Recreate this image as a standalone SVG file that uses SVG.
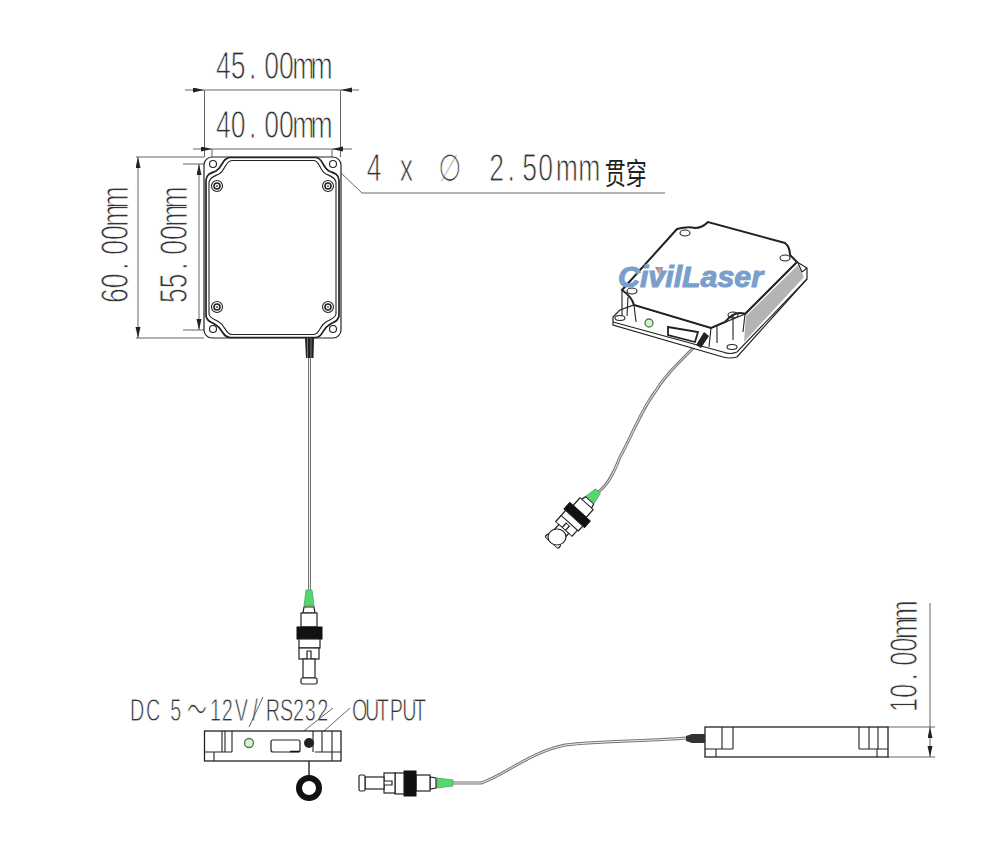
<svg xmlns="http://www.w3.org/2000/svg" xmlns:xlink="http://www.w3.org/1999/xlink" width="1001" height="859" viewBox="0 0 1001 859">
<style>
.t{font-family:"Liberation Sans",sans-serif;font-size:38px;fill:#333;stroke:#fff;stroke-width:.9px}
.s{font-size:32px;stroke-width:.8px}
.d{fill:none;stroke:#555;stroke-width:.9}
.b{fill:none;stroke:#222;stroke-width:1.1}
.h{fill:none;stroke:#222;stroke-width:1.7}
.fo{fill:none;stroke:#777;stroke-width:3}
.fi{fill:none;stroke:#eee;stroke-width:1}
.w{fill:#fff;stroke:#222;stroke-width:1.2}
.k{fill:#111;stroke:#111}
.g{fill:#55d86a;stroke:#4a7;stroke-width:.8}
.led{fill:#d8f2cf;stroke:#4f7a4f;stroke-width:1.3}
</style>
<defs>
<marker id="ah" markerUnits="userSpaceOnUse" markerWidth="12" markerHeight="6" refX="11" refY="2.5" orient="auto"><path d="M0,0L11,2.5L0,5z" fill="#222"/></marker>
<g id="fc">
<path class="g" d="M-3,0L3,0L5,16L-5,16z"/>
<path class="w" d="M-5,17L5,17L6,23L-6,23z"/>
<rect class="w" x="-8" y="23" width="16" height="14"/>
<rect class="k" x="-12" y="37" width="25" height="12"/>
<rect class="w" x="-10" y="49" width="21" height="9"/>
<rect class="w" x="-10" y="58" width="20" height="11"/>
<path class="w" d="M-2,69V61H2V69"/>
<rect class="w" x="-6" y="69" width="12" height="19"/>
<rect class="w" x="-8" y="88" width="16" height="6" rx="1.5"/>
</g>
<g id="scr"><circle class="b" r="5.5"/><circle r="3" fill="none" stroke="#222" stroke-width="1.6"/><circle r="1" fill="#555"/></g>
</defs>
<rect width="1001" height="859" fill="#fff"/>
<g id="dimensions">
<path class="d" d="M204.500,90V157M340.500,90V157M204.500,90H340.500M212,149V157M332,149V157M212,149H332M136,157H204M136,338H204M183,164H212M183,330H212M888,727H935M888,757H935M930,603V727"/>
<path class="d" marker-end="url(#ah)" d="M185,90H204"/><path class="d" marker-end="url(#ah)" d="M359,90H341"/>
<path class="d" marker-end="url(#ah)" d="M193,149H212"/><path class="d" marker-end="url(#ah)" d="M352,149H332"/>
<path class="d" marker-end="url(#ah)" d="M138,248V157"/><path class="d" marker-end="url(#ah)" d="M138,248V338"/>
<path class="d" marker-end="url(#ah)" d="M199,248V164"/><path class="d" marker-end="url(#ah)" d="M199,248V330"/>
<path class="d" marker-end="url(#ah)" d="M930,742V727"/><path class="d" marker-end="url(#ah)" d="M930,742V757"/>
<path class="d" d="M340,172L362,193H665"/>
<text class="t" transform="translate(216,79) scale(.7,1)" x="0 21 47 69 90 109 135">45.00mm</text>
<text class="t" transform="translate(216,138) scale(.7,1)" x="0 21 47 69 90 109 135">40.00mm</text>
<text class="t" transform="translate(128,303) rotate(-90) scale(.7,1)" x="0 21 47 69 90 109 135">60.00mm</text>
<text class="t" transform="translate(187,303) rotate(-90) scale(.7,1)" x="0 21 47 69 90 109 135">55.00mm</text>
<text class="t" transform="translate(917,712) rotate(-90) scale(.67,1)" x="0 21 47 69 90 109 135">10.00mm</text>
<text class="t" transform="translate(0,181) scale(.7,1)"><tspan x="524">4</tspan> <tspan x="571">x</tspan> <tspan x="626" style="font-family:'DejaVu Sans'">∅</tspan> <tspan x="699 725 746 769 794 826">2.50mm</tspan><tspan x="864" y="3" style="font-family:'Noto Sans CJK SC',sans-serif;font-size:30px;stroke:none;fill:#222">贯穿</tspan></text>
<text class="t s" transform="translate(130,721) scale(.62,1)" x="0 26 53 65 92 129 148 169 197 219 242 263 282 302">DC 5<tspan style="font-family:'Noto Sans CJK SC',sans-serif">～</tspan>12V/RS232</text>
<text class="t s" transform="translate(352,721) scale(.62,1)" x="0 21 40 61 81 100">OUTPUT</text>
<path class="d" d="M286,745L333,708M315,739L350,708M249,727L263,697"/>
</g>
<g id="connectors">
<path class="fo" d="M309.500,358V592"/><path class="fi" d="M309.500,358V592"/>
<path class="fo" d="M453,783H481C505,775 530,752 565,745C600,741 650,741 687,738"/><path class="fi" d="M453,783H481C505,775 530,752 565,745C600,741 650,741 687,738"/>
<path class="fo" d="M698,343C680,362 665,375 655,392C640,412 630,440 620,457C613,475 607,486 598,492"/><path class="fi" d="M698,343C680,362 665,375 655,392C640,412 630,440 620,457C613,475 607,486 598,492"/>
<path d="M309,745V776" stroke="#333" stroke-width="1.500" fill="none"/>
</g>
<g id="top-view">
<rect x="204" y="157" width="137" height="181" rx="8" fill="#fff" stroke="#222" stroke-width="1.2"/>
<path class="h" d="M206,180C207,173 212,173 216,171C223,167 222,158 230,157.500H316C323,158 322,167 329,171C333,173 338,173 339,180V316C338,322 333,322 329,325C322,329 323,337 316,337.500H230C222,337 223,329 216,325C212,322 207,322 206,316Z"/>
<path class="b" d="M209,182C210,177 215,176 219,174C226,170 225,161 232,160.500H314C320,161 319,170 326,174C330,176 335,177 336,182V314C335,319 330,319 326,322C319,326 320,334 314,334.500H232C225,334 226,326 219,322C215,319 210,319 209,314Z"/>
<circle class="b" cx="213" cy="164" r="3.500"/><circle class="b" cx="333" cy="164" r="3.500"/><circle class="b" cx="213" cy="329" r="3.500"/><circle class="b" cx="333" cy="329" r="3.500"/>
<use xlink:href="#scr" href="#scr" x="217" y="186"/><use xlink:href="#scr" href="#scr" x="328" y="186"/><use xlink:href="#scr" href="#scr" x="217" y="307"/><use xlink:href="#scr" href="#scr" x="328" y="307"/>
<path d="M305,338H314L313.500,358H306z" fill="#222"/><path d="M307.500,338V358M311,338V358" stroke="#999" stroke-width=".7"/>
</g>
<g id="fc-top"><use xlink:href="#fc" href="#fc" transform="translate(309,590)"/></g>
<g id="front-view">
<rect x="204.500" y="731" width="136.500" height="30" fill="#fff" stroke="#222" stroke-width="1.300"/>
<path class="b" d="M204.500,752H232M315,752H341M214,752V761M332,752V761M222,731V752M225,731V752M232,731V752M313,731V752M322,731V752M332,731V752"/>
<circle class="led" cx="249" cy="743" r="4.500"/>
<rect class="w" x="271" y="740" width="29" height="12" rx="2"/>
<path d="M290,751.500H299" stroke="#111" stroke-width="1.500"/>
<circle cx="309" cy="743" r="5" fill="#222"/>
<circle cx="309" cy="788" r="10" fill="none" stroke="#111" stroke-width="6"/>
</g>
<g id="fc-side"><use xlink:href="#fc" href="#fc" transform="translate(453,783) rotate(90)"/></g>
<g id="side-view">
<rect x="705" y="727" width="183" height="30" fill="#fff" stroke="#222" stroke-width="1.300"/>
<path class="b" d="M705,749H733M859,749H888M716,749V757M877,749V757M722,727V749M733,727V749M859,727V749M869,727V749M878,727V749"/>
<path d="M686,736L692,734H705V743H692L686,741z" fill="#333"/>
</g>
<g id="iso-view">
<path d="M613,317L620,310L634,305L711,328L745,314L797,262L807,268V279L737,357Q730,359 723,357L613,325z" fill="#fff" stroke="#222" stroke-width="1.200"/>
<path d="M746,316L798,265L804,277L744,342z" fill="#b4b4b4"/>
<path class="b" d="M613,322L723,352Q730,355 737,352L807,279M798,263L802,272L807,268M622,290V315M628,297L627,316M634,305L636,322M711,328L709,347M717,325V343M733,313V340M745,314L743,332"/>
<path d="M622,290L677,229Q688,226 695,228Q702,228 708,222L785,243Q790,247 790,255L797,262L745,314Q735,310 725,322L711,328L634,305Q632,297 622,290Z" fill="#fff" stroke="#222" stroke-width="2"/>
<ellipse class="b" cx="685" cy="233" rx="5" ry="3"/><ellipse class="b" cx="785" cy="258" rx="5" ry="3"/><ellipse class="b" cx="632" cy="291" rx="5" ry="3"/><ellipse class="b" cx="733" cy="315" rx="5" ry="3"/><ellipse class="b" cx="620" cy="318" rx="5" ry="2.500"/><ellipse class="b" cx="732" cy="347" rx="5" ry="2.500"/>
<circle class="led" cx="649" cy="323" r="4"/>
<path d="M668,327L698,332L695,342L668,335z" fill="#fff" stroke="#222" stroke-width="1.800"/>
<path d="M696,345L704,332L709,336L701,348z" fill="#222"/>
</g>
<g id="fc-iso"><use xlink:href="#fc" href="#fc" transform="translate(598,491) rotate(42) scale(1.1,.74)"/><ellipse class="w" cx="557" cy="537" rx="9" ry="8"/></g>
<g id="watermark">
<text x="618" y="287" textLength="145" lengthAdjust="spacingAndGlyphs" style="font-family:'Liberation Sans',sans-serif;font-size:29px;font-weight:bold;font-style:italic;fill:#7a9fcb;stroke:#7a9fcb;stroke-width:1">CivilLaser</text>
<path d="M655,267H658L660,276z" fill="#e06a6a"/><path d="M658,267H660L660.500,277z" fill="#6ac47a"/><path d="M660,267H663L661,277z" fill="#9a8ad8"/>
</g>
</svg>
